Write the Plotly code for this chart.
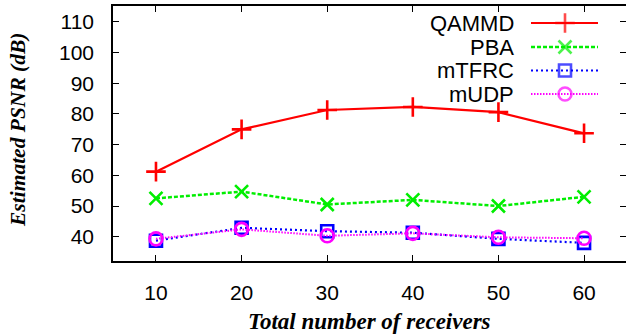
import plotly.graph_objects as go

receivers = [10, 20, 30, 40, 50, 60]
qammd = [61.2, 75.0, 81.3, 82.3, 80.6, 73.7]
pba = [52.5, 54.7, 50.5, 52.0, 50.0, 53.0]
mtfrc = [38.7, 42.9, 41.8, 41.3, 39.3, 38.0]
mudp = [39.3, 42.4, 40.3, 41.1, 39.8, 39.5]
y_ticks = [40, 50, 60, 70, 80, 90, 100, 110]
x_ticks = [10, 20, 30, 40, 50, 60]
names = ["QAMMD", "PBA", "mTFRC", "mUDP"]

W, H = 626, 335
L, R, T, B = 113, 626, 6, 261

styles = [
    dict(color="#ff0000", dash="solid", width=2.2, symbol="cross-thin", size=14),
    dict(color="#00ee00", dash="4px,2px", width=2.5, symbol="x-thin", size=13),
    dict(color="#0000ff", dash="2px,3px", width=2.2, symbol="square-open", size=12),
    dict(color="#ff00ff", dash="1.5px,1.5px", width=2, symbol="circle-open", size=13),
]
series = [qammd, pba, mtfrc, mudp]

fig = go.Figure()
for name, ys, st in zip(names, series, styles):
    fig.add_trace(go.Scatter(
        x=receivers, y=ys, name=name, mode="lines+markers",
        line=dict(color=st["color"], dash=st["dash"], width=st["width"]),
        marker=dict(symbol=st["symbol"], size=st["size"], color=st["color"],
                    line=dict(color=st["color"], width=2.6)),
        showlegend=False, xaxis="x", yaxis="y",
    ))

# manual legend (gnuplot style: text then sample)
row_y = [23, 47, 70.5, 94]
for name, st, ry in zip(names, styles, row_y):
    fig.add_trace(go.Scatter(
        x=[531, 565, 598], y=[ry, ry, ry], mode="lines+markers",
        line=dict(color=st["color"], dash=st["dash"], width=st["width"]),
        marker=dict(symbol=st["symbol"], size=[0, st["size"], 0], color=st["color"],
                    line=dict(color=st["color"], width=2.6)),
        showlegend=False, xaxis="x3", yaxis="y3", hoverinfo="skip",
    ))
    fig.add_annotation(x=516, y=ry, xref="x3", yref="y3", text=name,
                       showarrow=False, xanchor="right", yanchor="middle",
                       font=dict(family="Liberation Sans", size=22, color="black"))

xr = [4.98, 64.9]
yr = [32.08, 115.2]
tickfont = dict(family="Liberation Sans", size=21, color="black")

fig.update_layout(
    width=W, height=H,
    margin=dict(l=L, r=W - R, t=T, b=H - B, pad=0),
    paper_bgcolor="white", plot_bgcolor="white",
    showlegend=False,
    xaxis=dict(range=xr, tickvals=x_ticks, ticks="inside", ticklen=6, tickwidth=1.2,
               tickcolor="black", showline=True, linecolor="black", linewidth=1.5,
               showgrid=False, zeroline=False, tickfont=tickfont, ticklabelstandoff=12),
    yaxis=dict(range=yr, tickvals=y_ticks, ticks="inside", ticklen=6, tickwidth=1.2,
               tickcolor="black", showline=True, linecolor="black", linewidth=1.5,
               showgrid=False, zeroline=False, tickfont=tickfont, ticklabelstandoff=13),
    xaxis2=dict(range=xr, tickvals=x_ticks, ticks="inside", ticklen=6, tickwidth=1.2,
                tickcolor="black", showline=True, linecolor="black", linewidth=1.5,
                showgrid=False, zeroline=False, showticklabels=False,
                overlaying="x", side="top"),
    yaxis2=dict(range=yr, tickvals=y_ticks, ticks="inside", ticklen=6, tickwidth=1.2,
                tickcolor="black", showline=False, showgrid=False, zeroline=False,
                showticklabels=False, overlaying="y", side="right"),
    xaxis3=dict(range=[L, R], visible=False, overlaying="x", fixedrange=True),
    yaxis3=dict(range=[B, T], visible=False, overlaying="y", fixedrange=True),
)

# invisible trace so mirror axes render
fig.add_trace(go.Scatter(x=[receivers[0]], y=[y_ticks[0]], xaxis="x2", yaxis="y2",
                         mode="markers", marker=dict(opacity=0), showlegend=False,
                         hoverinfo="skip"))

pw, ph = R - L, B - T
fig.add_annotation(x=0.5, y=(B - 321) / ph, xref="paper", yref="paper",
                   text="<b><i>Total number of receivers</i></b>", showarrow=False,
                   xanchor="center", yanchor="middle",
                   font=dict(family="Liberation Serif", size=23, color="black"))
fig.add_annotation(x=(18 - L) / pw, y=(B - 130) / ph, xref="paper", yref="paper",
                   text="<b><i>Estimated PSNR (dB)</i></b>", showarrow=False,
                   textangle=-90, xanchor="center", yanchor="middle",
                   font=dict(family="Liberation Serif", size=21.5, color="black"))

fig.write_html("out.html", config={"displayModeBar": False},
               post_script="document.body.style.margin='0px';")
